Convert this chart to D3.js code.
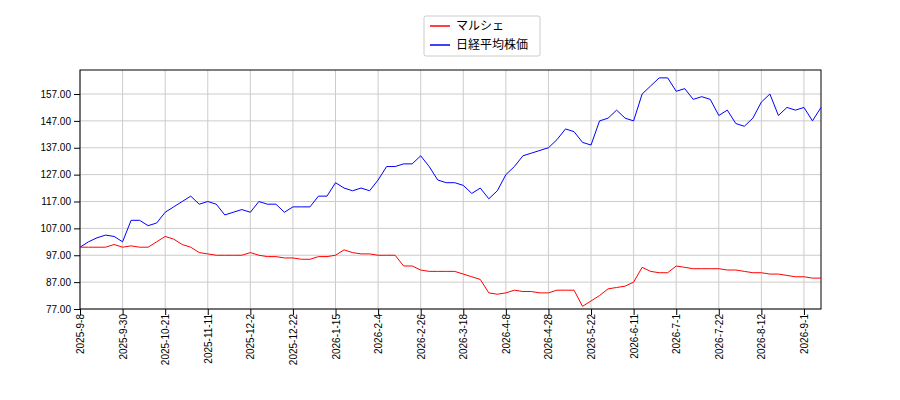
<!DOCTYPE html>
<html>
<head>
<meta charset="utf-8">
<script src="https://cdn.jsdelivr.net/npm/d3@7"></script>
<style>body{margin:0;background:#fff;}</style>
</head>
<body>
<div id="container"></div>
<script>
let tickLabels = ["2025-9-8","2025-9-30","2025-10-21","2025-11-11","2025-12-2","2025-12-22","2026-1-15","2026-2-4","2026-2-26","2026-3-18","2026-4-8","2026-4-28","2026-5-22","2026-6-11","2026-7-1","2026-7-22","2026-8-12","2026-9-1"];
let yTicks = [77, 87, 97, 107, 117, 127, 137, 147, 157];
// sampled every 3 trading days
let marche = [100,100,100,100,101,100,100.5,100,100,102,104,103,101,100,98,97.5,97,97,97,97,98,97,96.5,96.5,96,96,95.5,95.5,96.5,96.5,97,99,98,97.5,97.5,97,97,97,93,93,91.5,91,91,91,91,90,89,88,83,82.5,83,84,83.5,83.5,83,83,84,84,84,78,80,82,84.5,85,85.5,87,92.5,91,90.5,90.5,93,92.5,92,92,92,92,91.5,91.5,91,90.5,90.5,90,90,89.5,89,89,88.5,88.5];
let nikkei = [100,102,103.5,104.5,104,102,110,110,108,109,113,115,117,119,116,117,116,112,113,114,113,117,116,116,113,115,115,115,119,119,124,122,121,122,121,125,130,130,131,131,134,130,125,124,124,123,120,122,118,121,127,130,134,135,136,137,140,144,143,139,138,147,148,151,148,147,157,160,163,163,158,159,155,156,155,149,151,146,145,148,154,157,149,152,151,152,147,152];
let step = 3;
let tickStep = 15;

let viz = d3.select("#container").append("svg")
  .attr("width", 900).attr("height", 400)
  .style("font-family", "DejaVu Sans");

let plotLeft = 80, plotRight = 821, plotTop = 70, plotBottom = 309;
let n = nikkei.length;
let x = d3.scaleLinear().domain([0, (n - 1) * step]).range([plotLeft, plotRight]);
let y = d3.scaleLinear().domain([77, 157 + 24 / 2.6875]).range([plotBottom, plotTop]);

let tickIdx = tickLabels.map((d, i) => i * tickStep);

// grid
viz.append("g").selectAll("line").data(tickIdx).join("line")
  .attr("x1", d => x(d)).attr("x2", d => x(d)).attr("y1", plotTop).attr("y2", plotBottom)
  .attr("stroke", "#cccccc");
viz.append("g").selectAll("line").data(yTicks).join("line")
  .attr("x1", plotLeft).attr("x2", plotRight).attr("y1", d => y(d)).attr("y2", d => y(d))
  .attr("stroke", "#cccccc");

viz.append("rect").attr("x", plotLeft).attr("y", plotTop).attr("width", plotRight - plotLeft).attr("height", plotBottom - plotTop)
  .attr("fill", "none").attr("stroke", "#000");

let yAxis = viz.append("g").attr("transform", `translate(${plotLeft},0)`)
  .call(d3.axisLeft(y).tickValues(yTicks).tickFormat(d3.format(".2f")).tickSizeOuter(0));
yAxis.select(".domain").remove();
yAxis.selectAll("text").attr("font-size", 10).attr("fill", "#000");

let xAxis = viz.append("g").attr("transform", `translate(0,${plotBottom})`)
  .call(d3.axisBottom(x).tickValues(tickIdx).tickFormat((d, i) => tickLabels[i]).tickSizeOuter(0));
xAxis.select(".domain").remove();
xAxis.selectAll("text").attr("font-size", 10).attr("fill", "#000")
  .attr("transform", "rotate(-90)").attr("text-anchor", "end")
  .attr("x", -5).attr("y", 0).attr("dy", "0.35em");

let line = d3.line().x((d, i) => x(i * step)).y(d => y(d));
viz.append("path").datum(nikkei).attr("d", line).attr("fill", "none").attr("stroke", "#0000ff").attr("stroke-width", 1);
viz.append("path").datum(marche).attr("d", line).attr("fill", "none").attr("stroke", "#ff0000").attr("stroke-width", 1);

// legend
let lg = viz.append("g");
lg.append("rect").attr("x", 424).attr("y", 16).attr("width", 116).attr("height", 40)
  .attr("fill", "#fff").attr("stroke", "#cccccc").attr("rx", 2);
let names = ["マルシェ", "日経平均株価"];
let colors = ["#ff0000", "#0000ff"];
names.forEach((nm, i) => {
  lg.append("line").attr("x1", 430).attr("x2", 450).attr("y1", 26 + i * 19).attr("y2", 26 + i * 19)
    .attr("stroke", colors[i]).attr("stroke-width", 1.5);
  lg.append("text").text(nm).attr("x", 456).attr("y", 30 + i * 19)
    .attr("font-size", 12).attr("font-family", "Noto Sans CJK JP");
});
</script>
</body>
</html>
